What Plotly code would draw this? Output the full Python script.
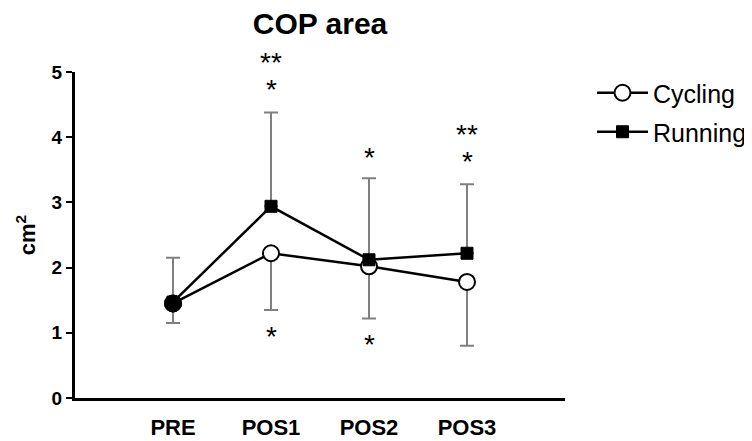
import plotly.graph_objects as go

categories = ["PRE", "POS1", "POS2", "POS3"]
cycling_mean = [1.45, 2.22, 2.02, 1.78]
cycling_lower = [1.15, 1.35, 1.22, 0.80]
running_mean = [1.47, 2.94, 2.12, 2.22]
running_upper = [2.15, 4.38, 3.37, 3.28]

# significance marks: a "*" at each listed position, with an extra "**" line above where flagged
sig_x = ["POS1", "POS1", "POS2", "POS2", "POS3"]
sig_y = [4.79, 1.0, 3.75, 0.87, 3.68]
sig_double = [True, False, False, False, True]

yticks = [0, 1, 2, 3, 4, 5]

FONT = "Liberation Sans, Arial, sans-serif"

# the page body adds an 8px margin, so the figure is 8px smaller than the window
W, H = 744, 433
L, T, R, B = 67, 64, 187, 43
PW, PH = W - L - R, H - T - B

fig = go.Figure()

fig.add_trace(go.Scatter(
    x=categories, y=cycling_mean, name="Cycling", mode="lines+markers",
    line=dict(color="black", width=2.5),
    marker=dict(symbol="circle", size=16, color="white",
                line=dict(color="black", width=2)),
    error_y=dict(type="data", symmetric=False,
                 array=[0 for _ in cycling_mean],
                 arrayminus=[m - l for m, l in zip(cycling_mean, cycling_lower)],
                 color="#808080", thickness=2, width=7),
    legend="legend",
))

fig.add_trace(go.Scatter(
    x=categories, y=running_mean, name="Running", mode="lines+markers",
    line=dict(color="black", width=2.5),
    marker=dict(symbol="square", size=12, color="black", line=dict(color="black", width=1)),
    error_y=dict(type="data", symmetric=False,
                 array=[u - m for u, m in zip(running_upper, running_mean)],
                 arrayminus=[0 for _ in running_mean],
                 color="#808080", thickness=2, width=7),
    legend="legend2",
))

# overlapping PRE points render as a solid dot
fig.add_trace(go.Scatter(
    x=categories[:1], y=cycling_mean[:1], mode="markers", showlegend=False,
    marker=dict(symbol="circle", size=17, color="black", line=dict(color="black", width=1)),
    hoverinfo="skip",
))

for x, y, dbl in zip(sig_x, sig_y, sig_double):
    fig.add_annotation(x=x, y=y, text="*", showarrow=False, yshift=-3, height=22,
                       font=dict(family=FONT, size=28, color="black"))
    if dbl:
        fig.add_annotation(x=x, y=y, text="**", showarrow=False, yshift=24, height=22,
                           font=dict(family=FONT, size=28, color="black"))

fig.update_layout(
    width=W, height=H,
    paper_bgcolor="white", plot_bgcolor="white",
    margin=dict(l=L, r=R, t=T, b=B, autoexpand=False),
    title=dict(text="<b>COP area</b>", x=(L + PW / 2) / W,
               xanchor="center", y=1 - 15.5 / H, yanchor="middle",
               font=dict(family=FONT, size=30, color="black")),
    font=dict(family=FONT, color="black"),
    legend=dict(x=1 + 27 / PW, y=(PH - 21) / PH, xanchor="left", yanchor="middle", itemwidth=51,
                font=dict(family=FONT, size=25, color="black"), bgcolor="rgba(0,0,0,0)"),
    legend2=dict(x=1 + 27 / PW, y=(PH - 60) / PH, xanchor="left", yanchor="middle", itemwidth=51,
                 font=dict(family=FONT, size=25, color="black"), bgcolor="rgba(0,0,0,0)"),
    showlegend=True,
)

fig.update_xaxes(
    type="category", range=[-1, 4], showline=True, linecolor="black", linewidth=3,
    ticks="", showgrid=False, zeroline=False, ticklabelstandoff=8, automargin=False,
    tickfont=dict(family=FONT, size=22, weight="bold", color="black"),
)
fig.update_yaxes(
    range=[0, 5], tickvals=yticks, showline=True, linecolor="black", linewidth=3,
    ticks="outside", ticklen=6, tickwidth=2, tickcolor="black",
    showgrid=False, zeroline=False, automargin=False,
    tickfont=dict(family=FONT, size=19, weight="bold", color="black"),
    title=dict(text="<b>cm<sup>2</sup></b>", standoff=10,
               font=dict(family=FONT, size=22, color="black")),
)

fig.write_html("out.html")
